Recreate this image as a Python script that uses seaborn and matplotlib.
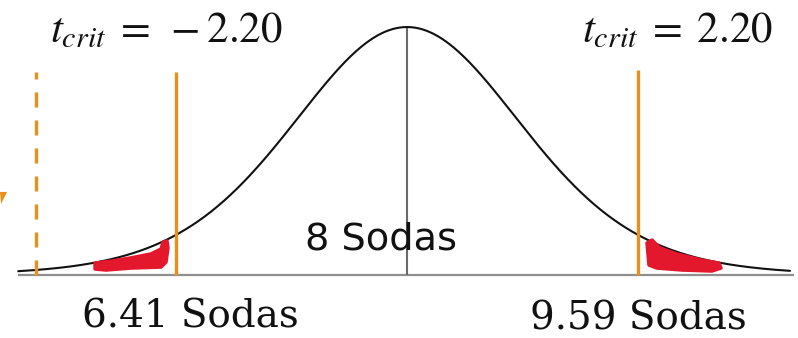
import numpy as np
import pandas as pd
import matplotlib
matplotlib.use("Agg")
import matplotlib.pyplot as plt
from matplotlib.patches import Polygon
import seaborn as sns

# t distribution (df = 11) of the sample mean, critical values and labels
df_t = 11
curve_scale = 1.116          # spread of the drawn density in t units
t_crit = 2.20
t_sample = -3.54             # dashed marker beyond the lower critical value
crit_line_top = [0.82, 0.828]
mean_label = "8 Sodas"
lower_label = "6.41 Sodas"
upper_label = "9.59 Sodas"
lower_crit_label = r"$t_{crit}\;=\;-2.20$"
upper_crit_label = r"$t_{crit}\;=\;2.20$"

# hand-drawn highlights of the two rejection regions (t, height)
lower_mark_t = [-2.977, -2.824, -2.634, -2.443, -2.347, -2.328, -2.290, -2.281,
                -2.300, -2.347, -2.634, -2.872, -2.977]
lower_mark_y = [0.048, 0.056, 0.069, 0.085, 0.105, 0.133, 0.137, 0.109,
                0.052, 0.032, 0.028, 0.020, 0.024]
upper_mark_t = [2.290, 2.338, 2.414, 2.576, 2.815, 2.977, 2.996, 2.910,
                2.624, 2.385, 2.309]
upper_mark_y = [0.129, 0.141, 0.109, 0.085, 0.060, 0.048, 0.028, 0.016,
                0.020, 0.028, 0.040]

ORANGE = "#E8901C"
RED = "#E3182C"

sns.set_style("white")
plt.rcParams["mathtext.fontset"] = "stix"

x = np.linspace(-3.71, 3.655, 600)
u = x / curve_scale
density = (1 + u ** 2 / df_t) ** (-(df_t + 1) / 2)
curve = pd.DataFrame({"t": x, "density": density})

fig = plt.figure(figsize=(7.98, 3.38), dpi=100)
ax = fig.add_axes([0, 0, 1, 1])

# axis line along the bottom of the curve
ax.hlines(0, -3.71, 3.69, color="#8f8f8f", lw=1.6, zorder=1)

sns.lineplot(data=curve, x="t", y="density", ax=ax, color="#111111",
             lw=1.5, zorder=3)

# centre line at the mean
ax.vlines(0, 0, 1, color="#6a6a6a", lw=1.5, zorder=2)

# critical values and the observed statistic
ax.vlines(-t_crit, 0, crit_line_top[0], color=ORANGE, lw=2.4, zorder=4)
ax.vlines(t_crit, 0, crit_line_top[1], color=ORANGE, lw=2.4, zorder=4)
ax.vlines(t_sample, 0, crit_line_top[0], color=ORANGE, lw=2.4,
          linestyles=(0, (4.5, 3.9)), zorder=4)

# small arrow tip at the left edge
ax.add_patch(Polygon([(-3.884, 0.335), (-3.817, 0.335), (-3.874, 0.287)],
                     closed=True, color=ORANGE, lw=0, zorder=4))

# shaded rejection regions
for ts, ys in ((lower_mark_t, lower_mark_y), (upper_mark_t, upper_mark_y)):
    ax.add_patch(Polygon(list(zip(ts, ys)), closed=True, facecolor=RED,
                         edgecolor=RED, lw=2.5, joinstyle="round", zorder=5))

ax.set_xlim(-3.884, 3.731)
ax.set_ylim(-0.254, 1.109)
ax.axis("off")

W, H = 798, 338

def place(px, py, s, **kw):
    fig.text(px / W, 1 - py / H, s, ha="left", va="baseline", **kw)

place(50, 42, lower_crit_label, fontsize=31, color="#111111")
place(582, 42, upper_crit_label, fontsize=31, color="#111111")
place(305, 250, mean_label, fontsize=27.5, family="DejaVu Sans", color="#111111")
place(82, 327, lower_label, fontsize=28, family="DejaVu Serif", color="#111111")
place(530, 330, upper_label, fontsize=28, family="DejaVu Serif", color="#111111")

fig.savefig("out.png", dpi=100)
